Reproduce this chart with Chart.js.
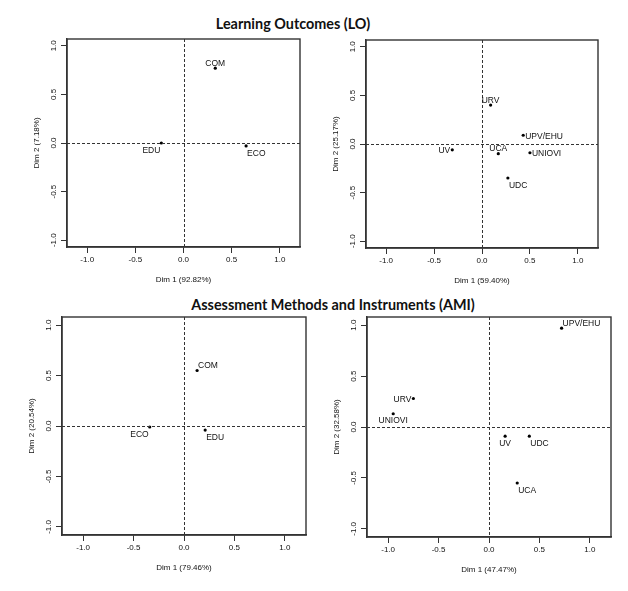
<!DOCTYPE html>
<html>
<head>
<meta charset="utf-8">
<script src="https://cdn.jsdelivr.net/npm/chart.js@4.4.0/dist/chart.umd.min.js"></script>
<style>
  body { margin: 0; background: #fff; }
  #page { position: relative; width: 628px; height: 591px; overflow: hidden; }
  .title { position: absolute; font-family: Lato, "Open Sans", sans-serif; font-weight: bold;
           font-size: 14.4px; color: #111; white-space: nowrap; transform: translateX(-50%); }
  canvas { position: absolute; }
</style>
</head>
<body>
<div id="page">
  <div class="title" style="left:293px; top:15px;">Learning Outcomes (LO)</div>
  <div class="title" style="left:333px; top:296px;">Assessment Methods and Instruments (AMI)</div>
  <canvas id="lo-disc"></canvas>
  <canvas id="lo-univ"></canvas>
  <canvas id="ami-disc"></canvas>
  <canvas id="ami-univ"></canvas>
</div>
<script>
// Data
const tickValues = [-1, -0.5, 0, 0.5, 1];

const loDisciplines = ['COM', 'EDU', 'ECO'];
const loDisciplineDim1 = [0.33, -0.23, 0.65];
const loDisciplineDim2 = [0.77, 0.00, -0.03];

const loUniversities = ['URV', 'UPV/EHU', 'UV', 'UCA', 'UNIOVI', 'UDC'];
const loUniversityDim1 = [0.09, 0.43, -0.31, 0.17, 0.50, 0.27];
const loUniversityDim2 = [0.40, 0.09, -0.06, -0.10, -0.09, -0.35];

const amiDisciplines = ['COM', 'ECO', 'EDU'];
const amiDisciplineDim1 = [0.13, -0.34, 0.21];
const amiDisciplineDim2 = [0.55, -0.01, -0.04];

const amiUniversities = ['UPV/EHU', 'URV', 'UNIOVI', 'UV', 'UDC', 'UCA'];
const amiUniversityDim1 = [0.72, -0.75, -0.95, 0.16, 0.40, 0.28];
const amiUniversityDim2 = [0.97, 0.28, 0.13, -0.09, -0.09, -0.55];

// where each label sits next to its point
const loDisciplinePos = ['above', 'below-left', 'below-right'];
const loUniversityPos = ['above', 'right', 'left', 'above', 'right', 'below-right'];
const amiDisciplinePos = ['above-right', 'below-left', 'below-right'];
const amiUniversityPos = ['above-right', 'left', 'below', 'below', 'below-right', 'below-right'];

const FONT = '"Liberation Sans", Arial, sans-serif';
const INK = '#111';

// box, dashed origin lines, rotated y ticks, point labels
const rPlotPlugin = {
    id: 'rPlot',
    afterDatasetsDraw(chart) {
        const ctx = chart.ctx;
        const a = chart.chartArea;
        const xs = chart.scales.x, ys = chart.scales.y;
        ctx.save();
        ctx.strokeStyle = '#333';
        ctx.lineWidth = 1;
        ctx.setLineDash([3, 2]);
        ctx.beginPath();
        const x0 = Math.round(xs.getPixelForValue(0)) + 0.5;
        const y0 = Math.round(ys.getPixelForValue(0)) + 0.5;
        ctx.moveTo(x0, a.top); ctx.lineTo(x0, a.bottom);
        ctx.moveTo(a.left, y0); ctx.lineTo(a.right, y0);
        ctx.stroke();
        ctx.setLineDash([]);
        ctx.lineWidth = 1.4;
        ctx.strokeRect(a.left, a.top, a.right - a.left, a.bottom - a.top);

        ctx.fillStyle = INK;
        ctx.font = '8px ' + FONT;
        ctx.textAlign = 'center';
        ctx.textBaseline = 'middle';
        tickValues.forEach(v => {
            ctx.save();
            ctx.translate(a.left - 13, ys.getPixelForValue(v));
            ctx.rotate(-Math.PI / 2);
            ctx.fillText(v.toFixed(1), 0, 0);
            ctx.restore();
        });

        const opts = chart.options.plugins.rPlot;
        const meta = chart.getDatasetMeta(0);
        ctx.font = '8.5px ' + FONT;
        meta.data.forEach((pt, i) => {
            const p = opts.pos[i];
            let x = pt.x, y = pt.y;
            if (p === 'above') { ctx.textAlign = 'center'; ctx.textBaseline = 'bottom'; y -= 0.5; }
            else if (p === 'above-right') { ctx.textAlign = 'left'; ctx.textBaseline = 'bottom'; x += 1; y -= 0.5; }
            else if (p === 'below') { ctx.textAlign = 'center'; ctx.textBaseline = 'top'; y += 3; }
            else if (p === 'below-left') { ctx.textAlign = 'right'; ctx.textBaseline = 'top'; x -= 1; y += 3; }
            else if (p === 'below-right') { ctx.textAlign = 'left'; ctx.textBaseline = 'top'; x += 1; y += 3; }
            else if (p === 'left') { ctx.textAlign = 'right'; ctx.textBaseline = 'middle'; x -= 2; y += 1; }
            else { ctx.textAlign = 'left'; ctx.textBaseline = 'middle'; x += 2; y += 1; }
            ctx.fillText(opts.names[i], x, y);
        });
        ctx.restore();
    }
};

function makePanel(id, area, names, dim1, dim2, pos, xTitle, yTitle, yLim) {
    const canvas = document.getElementById(id);
    const w = area.right - area.left + 60;
    const h = area.bottom - area.top + 60;
    canvas.width = w; canvas.height = h;
    canvas.style.width = w + 'px'; canvas.style.height = h + 'px';
    canvas.style.left = (area.left - 50) + 'px';
    canvas.style.top = (area.top - 10) + 'px';

    const points = names.map((n, i) => ({ x: dim1[i], y: dim2[i] }));

    return new Chart(canvas.getContext('2d'), {
        type: 'scatter',
        data: {
            datasets: [{
                data: points,
                pointRadius: 1.6,
                pointHoverRadius: 1.6,
                backgroundColor: '#000',
                borderColor: '#000',
                borderWidth: 0
            }]
        },
        options: {
            responsive: false,
            animation: false,
            devicePixelRatio: 1,
            layout: { padding: { left: 0, top: 10, right: 10, bottom: 0 } },
            plugins: {
                legend: { display: false },
                tooltip: { enabled: false },
                rPlot: { names: names, pos: pos }
            },
            scales: {
                x: {
                    type: 'linear',
                    min: -1.21, max: 1.21,
                    afterBuildTicks: s => { s.ticks = tickValues.map(v => ({ value: v })); },
                    afterFit: s => { s.height = 50; },
                    grid: { drawOnChartArea: false, drawTicks: true, tickLength: 6, color: '#333' },
                    border: { display: true, color: '#333', width: 1.4 },
                    ticks: {
                        padding: 2, color: INK, maxRotation: 0,
                        font: { family: FONT, size: 8 },
                        callback: v => v.toFixed(1)
                    },
                    title: {
                        display: true, text: xTitle, color: INK,
                        font: { family: FONT, size: 8 },
                        padding: { top: 0, bottom: 12 }
                    }
                },
                y: {
                    type: 'linear',
                    min: -yLim, max: yLim,
                    afterBuildTicks: s => { s.ticks = tickValues.map(v => ({ value: v })); },
                    afterFit: s => { s.width = 50; },
                    grid: { drawOnChartArea: false, drawTicks: true, tickLength: 6, color: '#333' },
                    border: { display: true, color: '#333', width: 1.4 },
                    ticks: { display: false },
                    title: {
                        display: true, text: yTitle, color: INK,
                        font: { family: FONT, size: 8 },
                        padding: { top: 15, bottom: 0 }
                    }
                }
            }
        },
        plugins: [rPlotPlugin]
    });
}

makePanel('lo-disc', { left: 67, top: 39, right: 300, bottom: 247 },
    loDisciplines, loDisciplineDim1, loDisciplineDim2, loDisciplinePos,
    'Dim 1 (92.82%)', 'Dim 2 (7.18%)', 1.07);
makePanel('lo-univ', { left: 366, top: 40, right: 598, bottom: 248 },
    loUniversities, loUniversityDim1, loUniversityDim2, loUniversityPos,
    'Dim 1 (59.40%)', 'Dim 2 (25.17%)', 1.07);
makePanel('ami-disc', { left: 62, top: 317, right: 306, bottom: 535 },
    amiDisciplines, amiDisciplineDim1, amiDisciplineDim2, amiDisciplinePos,
    'Dim 1 (79.46%)', 'Dim 2 (20.54%)', 1.08);
makePanel('ami-univ', { left: 367, top: 317, right: 611, bottom: 537 },
    amiUniversities, amiUniversityDim1, amiUniversityDim2, amiUniversityPos,
    'Dim 1 (47.47%)', 'Dim 2 (32.58%)', 1.08);
</script>
</body>
</html>
